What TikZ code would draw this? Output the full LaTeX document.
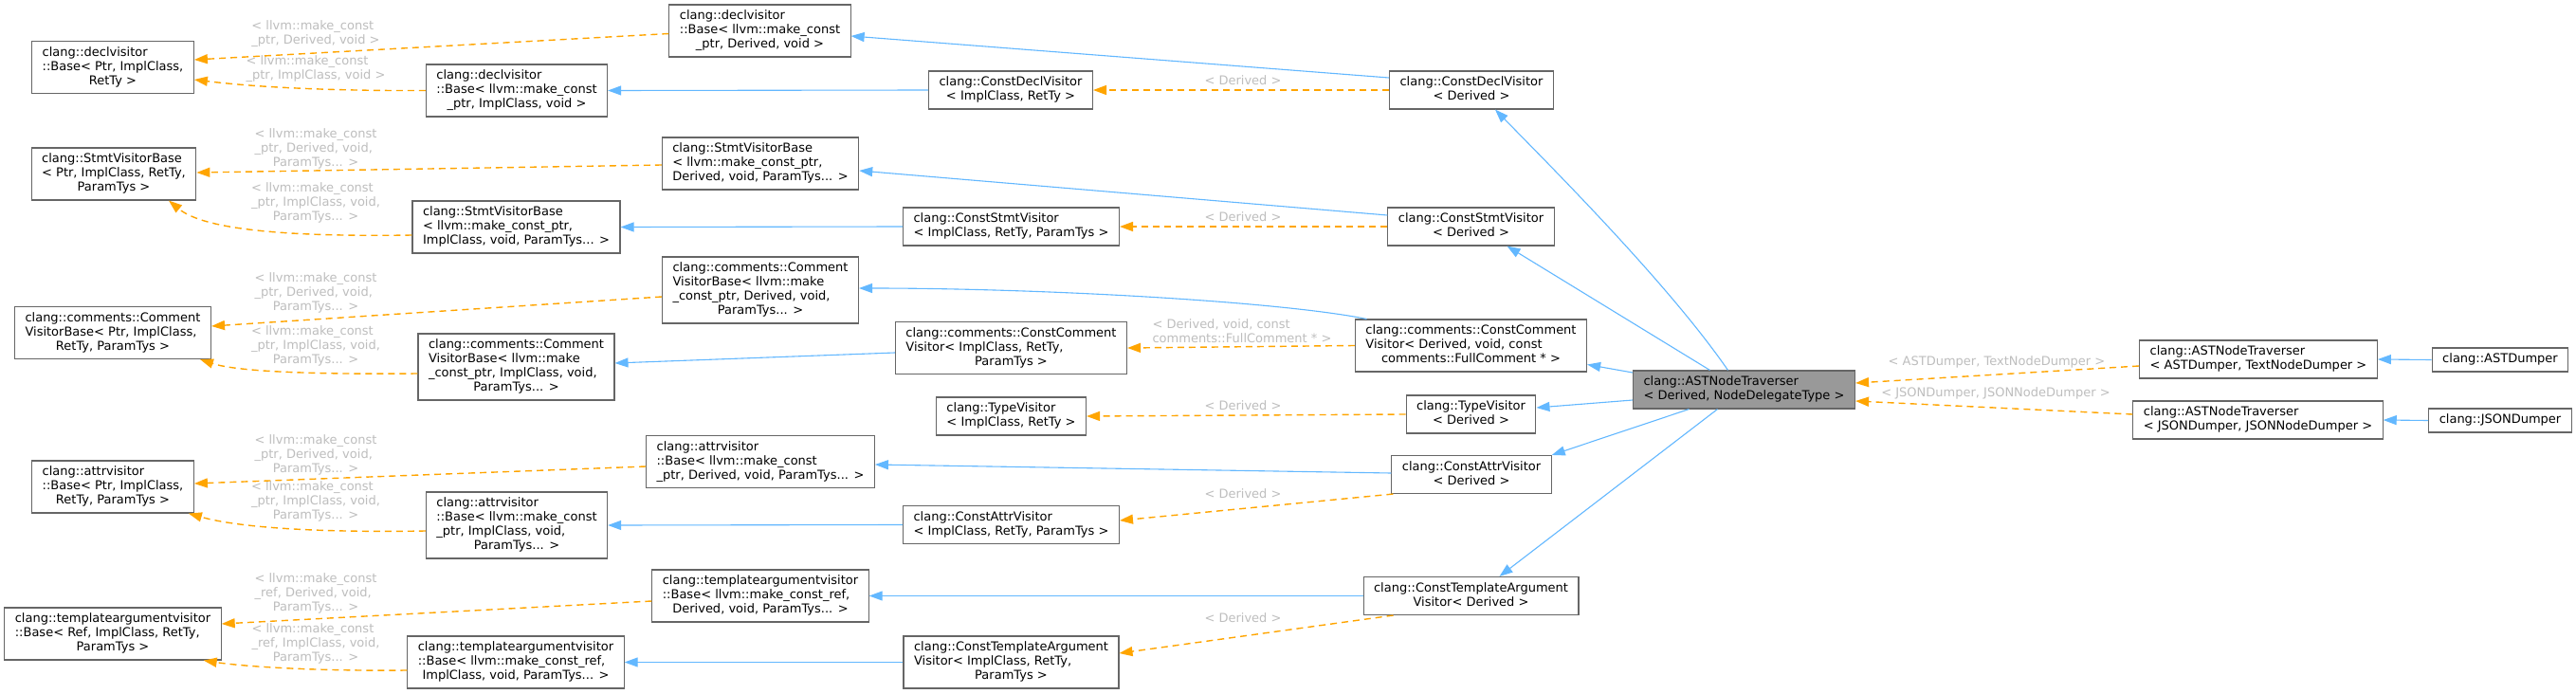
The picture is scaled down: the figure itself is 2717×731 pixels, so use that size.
\documentclass[tikz,border=0pt]{standalone}
\usepackage{fontspec}
\setmainfont{DejaVu Sans}
\usepackage{tikz}
\usetikzlibrary{arrows.meta}
\definecolor{boxgray}{HTML}{666666}
\definecolor{curgray}{HTML}{999999}
\definecolor{lblgray}{HTML}{BEBEBE}
\definecolor{inhblue}{HTML}{63B8FF}
\definecolor{tmplorange}{HTML}{FFA500}
\newcommand{\dox}[2]{\begin{tabular}{@{}l@{}}#1\\\multicolumn{1}{@{}c@{}}{#2}\end{tabular}}
\newcommand{\doxone}[1]{\begin{tabular}{@{}c@{}}#1\end{tabular}}
\begin{document}
\begin{tikzpicture}[x=1pt,y=-1pt,
  cls/.style={draw=boxgray,fill=white,line width=1.1pt,inner xsep=11pt,inner ysep=5pt,
    font=\fontsize{13}{15}\selectfont},
  clscur/.style={cls,fill=curgray},
  lbl/.style={text=lblgray,inner sep=0pt,font=\fontsize{13}{15}\selectfont},
  inh/.style={draw=inhblue,line width=1.1pt,-{Triangle[length=14pt,width=10pt]}},
  tmpl/.style={draw=tmplorange,line width=1.4pt,dash pattern=on 7pt off 5pt,
    -{Triangle[length=14pt,width=10pt]}}]
\fill[white] (0,0) rectangle (2717,731);
\useasboundingbox (0,0) rectangle (2717,731);

\node[cls] (A0) at (119,71)
{\dox{clang::declvisitor\\::Base< Ptr, ImplClass,}{RetTy >}};
\node[cls] (B0) at (120,183.5)
{\dox{clang::StmtVisitorBase\\< Ptr, ImplClass, RetTy,}{ParamTys >}};
\node[cls] (C0) at (119,351)
{\dox{clang::comments::Comment\\VisitorBase< Ptr, ImplClass,}{RetTy, ParamTys >}};
\node[cls] (D0) at (119,513.5)
{\dox{clang::attrvisitor\\::Base< Ptr, ImplClass,}{RetTy, ParamTys >}};
\node[cls] (E0) at (119,668.5)
{\dox{clang::templateargumentvisitor\\::Base< Ref, ImplClass, RetTy,}{ParamTys >}};

\node[cls] (A1) at (545,95.5)
{\dox{clang::declvisitor\\::Base< llvm::make\_const}{\_ptr, ImplClass, void >}};
\node[cls] (B1) at (544.5,239.5)
{\dox{clang::StmtVisitorBase\\< llvm::make\_const\_ptr,}{ImplClass, void, ParamTys... >}};
\node[cls] (C1) at (544.5,387)
{\dox{clang::comments::Comment\\VisitorBase< llvm::make\\\_const\_ptr, ImplClass, void,}{ParamTys... >}};
\node[cls] (D1) at (545,554)
{\dox{clang::attrvisitor\\::Base< llvm::make\_const\\\_ptr, ImplClass, void,}{ParamTys... >}};
\node[cls] (E1) at (544,698.5)
{\dox{clang::templateargumentvisitor\\::Base< llvm::make\_const\_ref,}{ImplClass, void, ParamTys... >}};

\node[cls] (A2) at (801.5,32.5)
{\dox{clang::declvisitor\\::Base< llvm::make\_const}{\_ptr, Derived, void >}};
\node[cls] (B2) at (802,172.5)
{\dox{clang::StmtVisitorBase\\< llvm::make\_const\_ptr,}{Derived, void, ParamTys... >}};
\node[cls] (C2) at (802,306)
{\dox{clang::comments::Comment\\VisitorBase< llvm::make\\\_const\_ptr, Derived, void,}{ParamTys... >}};
\node[cls] (D2) at (802,487)
{\dox{clang::attrvisitor\\::Base< llvm::make\_const}{\_ptr, Derived, void, ParamTys... >}};
\node[cls] (E2) at (802,628.5)
{\dox{clang::templateargumentvisitor\\::Base< llvm::make\_const\_ref,}{Derived, void, ParamTys... >}};

\node[cls] (A3) at (1066,95)
{\dox{clang::ConstDeclVisitor}{< ImplClass, RetTy >}};
\node[cls] (B3) at (1066.5,239)
{\dox{clang::ConstStmtVisitor}{< ImplClass, RetTy, ParamTys >}};
\node[cls] (C3) at (1066.5,367)
{\dox{clang::comments::ConstComment\\Visitor< ImplClass, RetTy,}{ParamTys >}};
\node[cls] (T3) at (1066.5,439)
{\dox{clang::TypeVisitor}{< ImplClass, RetTy >}};
\node[cls] (D3) at (1066.5,553.5)
{\dox{clang::ConstAttrVisitor}{< ImplClass, RetTy, ParamTys >}};
\node[cls] (E3) at (1066.5,698.5)
{\dox{clang::ConstTemplateArgument\\Visitor< ImplClass, RetTy,}{ParamTys >}};

\node[cls] (A4) at (1552,95)
{\dox{clang::ConstDeclVisitor}{< Derived >}};
\node[cls] (B4) at (1551.5,239)
{\dox{clang::ConstStmtVisitor}{< Derived >}};
\node[cls] (C4) at (1551.5,364.5)
{\dox{clang::comments::ConstComment\\Visitor< Derived, void, const}{comments::FullComment * >}};
\node[cls] (T4) at (1551.5,437)
{\dox{clang::TypeVisitor}{< Derived >}};
\node[cls] (D4) at (1552,500.5)
{\dox{clang::ConstAttrVisitor}{< Derived >}};
\node[cls] (E4) at (1551.5,628.5)
{\dox{clang::ConstTemplateArgument}{Visitor< Derived >}};

\node[clscur] (AST) at (1839.5,411)
{\dox{clang::ASTNodeTraverser}{< Derived, NodeDelegateType >}};
\node[cls] (ATD) at (2382,379)
{\dox{clang::ASTNodeTraverser}{< ASTDumper, TextNodeDumper >}};
\node[cls] (AJS) at (2381.5,443)
{\dox{clang::ASTNodeTraverser}{< JSONDumper, JSONNodeDumper >}};
\node[cls] (AD) at (2637,379.5)
{\doxone{clang::ASTDumper}};
\node[cls] (JD) at (2637,443.5)
{\doxone{clang::JSONDumper}};

\node[lbl] (La) at (333,36)
{\dox{< llvm::make\_const}{\_ptr, Derived, void >}};
\node[lbl] (Lb) at (333,73)
{\dox{< llvm::make\_const}{\_ptr, ImplClass, void >}};
\node[lbl] (Lc) at (1311,86)
{\doxone{< Derived >}};
\node[lbl] (Ld) at (333,157)
{\dox{< llvm::make\_const\\\_ptr, Derived, void,}{ParamTys... >}};
\node[lbl] (Le) at (333,214)
{\dox{< llvm::make\_const\\\_ptr, ImplClass, void,}{ParamTys... >}};
\node[lbl] (Lf) at (1311,230)
{\doxone{< Derived >}};
\node[lbl] (Lg) at (333,309)
{\dox{< llvm::make\_const\\\_ptr, Derived, void,}{ParamTys... >}};
\node[lbl] (Lh) at (333,365)
{\dox{< llvm::make\_const\\\_ptr, ImplClass, void,}{ParamTys... >}};
\node[lbl] (Li) at (1310,350.5)
{\dox{< Derived, void, const}{comments::FullComment * >}};
\node[lbl] (Lj) at (1311,429)
{\doxone{< Derived >}};
\node[lbl] (Lk) at (333,480)
{\dox{< llvm::make\_const\\\_ptr, Derived, void,}{ParamTys... >}};
\node[lbl] (Ll) at (333,529)
{\dox{< llvm::make\_const\\\_ptr, ImplClass, void,}{ParamTys... >}};
\node[lbl] (Lm) at (1311,522)
{\doxone{< Derived >}};
\node[lbl] (Ln) at (333,626)
{\dox{< llvm::make\_const\\\_ref, Derived, void,}{ParamTys... >}};
\node[lbl] (Lo) at (333,679)
{\dox{< llvm::make\_const\\\_ref, ImplClass, void,}{ParamTys... >}};
\node[lbl] (Lp) at (1311,653)
{\doxone{< Derived >}};
\node[lbl] (Lq) at (2106,382)
{\doxone{< ASTDumper, TextNodeDumper >}};
\node[lbl] (Lr) at (2105,415)
{\doxone{< JSONDumper, JSONNodeDumper >}};

\draw[inh] ([yshift=13pt]A4.west) -- ([yshift=-5.5pt]A2.east);
\draw[inh] (A3.west) -- (A1.east);
\draw[inh] ([yshift=12pt]B4.west) -- ([yshift=-7.5pt]B2.east);
\draw[inh] (B3.west) -- (B1.east);
\draw[inh] ([xshift=-110pt]C4.north) .. controls (1350,318) and (1100,304) .. ([yshift=2pt]C2.east);
\draw[inh] ([yshift=-5pt]C3.west) -- ([yshift=4pt]C1.east);
\draw[inh] ([yshift=1.5pt]D4.west) -- ([yshift=-3pt]D2.east);
\draw[inh] (D3.west) -- (D1.east);
\draw[inh] (E4.west) -- (E2.east);
\draw[inh] (E3.west) -- (E1.east);
\draw[inh] ([xshift=-17pt]AST.north) .. controls (1760,300) and (1640,180) .. ([xshift=25pt]A4.south);
\draw[inh] ([xshift=-36pt]AST.north) -- ([xshift=38pt]B4.south);
\draw[inh] ([yshift=18pt]AST.west) -- ([yshift=-20pt]C4.east);
\draw[inh] ([yshift=-11pt]AST.west) -- ([yshift=7pt]T4.east);
\draw[inh] ([xshift=-58pt]AST.south) -- (D4.north east);
\draw[inh] ([xshift=-28pt]AST.south) -- ([xshift=30pt]E4.north);
\draw[inh] (AD.west) -- (ATD.east);
\draw[inh] (JD.west) -- (AJS.east);

\draw[tmpl] ([yshift=-3pt]A2.west) -- ([yshift=8pt]A0.east);
\draw[tmpl] (A1.west) .. controls (350,96) and (270,92) .. ([yshift=-13pt]A0.east);
\draw[tmpl] (A4.west) -- (A3.east);
\draw[tmpl] ([yshift=-1.5pt]B2.west) -- ([yshift=1.5pt]B0.east);
\draw[tmpl] ([yshift=-8.5pt]B1.west) .. controls (300,250) and (215,242) .. ([xshift=58pt]B0.south);
\draw[tmpl] (B4.west) -- (B3.east);
\draw[tmpl] ([yshift=-7pt]C2.west) -- ([yshift=7pt]C0.east);
\draw[tmpl] ([yshift=-7pt]C1.west) .. controls (330,395) and (250,392) .. ([xshift=-12pt]C0.south east);
\draw[tmpl] (C4.west) -- (C3.east);
\draw[tmpl] (T4.west) -- (T3.east);
\draw[tmpl] ([yshift=-5pt]D2.west) -- ([yshift=3.5pt]D0.east);
\draw[tmpl] ([yshift=-6pt]D1.west) .. controls (330,562) and (250,556) .. ([xshift=-6pt]D0.south east);
\draw[tmpl] ([xshift=2pt]D4.south west) -- ([yshift=4.5pt]D3.east);
\draw[tmpl] ([yshift=-5.5pt]E2.west) -- ([yshift=10.5pt]E0.east);
\draw[tmpl] ([yshift=-8.5pt]E1.west) .. controls (320,708) and (250,702) .. ([xshift=-19pt]E0.south east);
\draw[tmpl] ([xshift=32pt]E4.south west) -- ([yshift=9.5pt]E3.east);
\draw[tmpl] ([yshift=-7pt]ATD.west) -- ([yshift=7pt]AST.east);
\draw[tmpl] ([yshift=6pt]AJS.west) -- ([yshift=-12pt]AST.east);
\end{tikzpicture}
\end{document}
